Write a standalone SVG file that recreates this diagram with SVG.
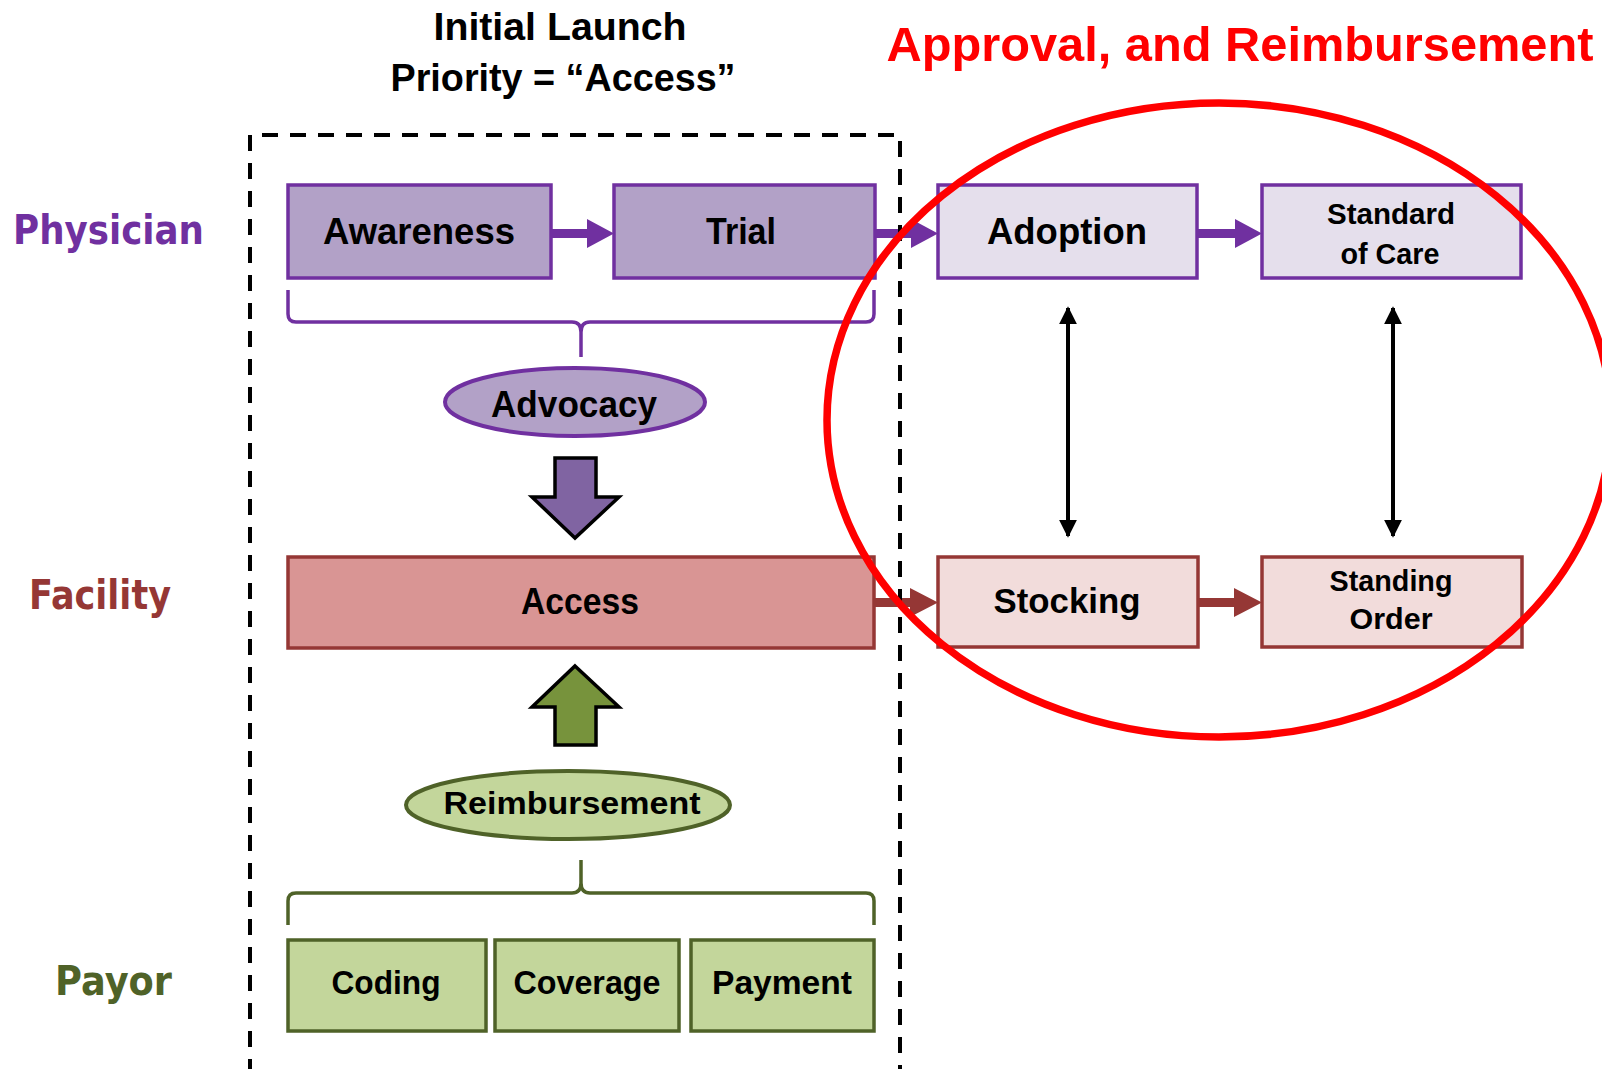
<svg xmlns="http://www.w3.org/2000/svg" width="1602" height="1069" viewBox="0 0 1602 1069">
  <defs>
    <style>
      .lbl { font-family: "Liberation Sans", Arial, sans-serif; font-weight: bold; fill: #000; text-anchor: middle; }
      .row { font-family: "DejaVu Sans", Verdana, sans-serif; font-weight: bold; }
      .phy-dark { fill: #B2A1C7; stroke: #7030A0; stroke-width: 3.5; }
      .phy-light { fill: #E5DFEC; stroke: #7030A0; stroke-width: 3.5; }
      .fac-dark { fill: #D99594; stroke: #953735; stroke-width: 3.5; }
      .fac-light { fill: #F2DCDB; stroke: #953735; stroke-width: 3.5; }
      .pay { fill: #C3D69B; stroke: #4F6228; stroke-width: 3.5; }
      .brace { fill: none; stroke-width: 3.5; stroke-linejoin: round; }
    </style>
    <marker id="tip" viewBox="0 0 10 10" refX="9" refY="5" markerWidth="18" markerHeight="18" markerUnits="userSpaceOnUse" orient="auto-start-reverse">
      <path d="M0,0 L10,5 L0,10 Z" fill="#000"/>
    </marker>
  </defs>
  <rect width="1602" height="1069" fill="#fff"/>

  <!-- headings -->
  <g id="heading">
    <text class="lbl" x="560" y="40" font-size="38" textLength="253" lengthAdjust="spacingAndGlyphs">Initial Launch</text>
    <text class="lbl" x="563" y="91" font-size="38" textLength="345" lengthAdjust="spacingAndGlyphs">Priority = “Access”</text>
  </g>
  <g id="red-heading">
    <text class="lbl" x="1240" y="61" font-size="49" style="fill:#FF0000" textLength="707" lengthAdjust="spacingAndGlyphs">Approval, and Reimbursement</text>
  </g>

  <!-- row labels -->
  <g id="row-physician"><text class="row" x="13" y="244" font-size="41" fill="#7030A0" textLength="191" lengthAdjust="spacingAndGlyphs">Physician</text></g>
  <g id="row-facility"><text class="row" x="29" y="609" font-size="41" fill="#953735" textLength="142" lengthAdjust="spacingAndGlyphs">Facility</text></g>
  <g id="row-payor"><text class="row" x="55" y="995" font-size="41" fill="#4F6228" textLength="117" lengthAdjust="spacingAndGlyphs">Payor</text></g>

  <!-- physician row -->
  <g id="awareness">
    <rect class="phy-dark" x="288" y="185" width="263" height="93"/>
    <text class="lbl" x="419" y="244" font-size="36" textLength="192" lengthAdjust="spacingAndGlyphs">Awareness</text>
  </g>
  <g id="trial">
    <rect class="phy-dark" x="614" y="185" width="261" height="93"/>
    <text class="lbl" x="741" y="244" font-size="36" textLength="70" lengthAdjust="spacingAndGlyphs">Trial</text>
  </g>
  <g id="adoption">
    <rect class="phy-light" x="938" y="185" width="259" height="93"/>
    <text class="lbl" x="1067" y="244" font-size="36" textLength="160" lengthAdjust="spacingAndGlyphs">Adoption</text>
  </g>
  <g id="standard-of-care">
    <rect class="phy-light" x="1262" y="185" width="259" height="93"/>
    <text class="lbl" x="1391" y="224" font-size="29" textLength="128" lengthAdjust="spacingAndGlyphs">Standard</text>
    <text class="lbl" x="1390" y="264" font-size="29" textLength="99" lengthAdjust="spacingAndGlyphs">of Care</text>
  </g>

  <!-- advocacy -->
  <g id="advocacy-brace">
    <path class="brace" stroke="#7030A0" d="M288,290 V314 Q288,322 296,322 H572 Q581,322 581,332 V357 M581,332 Q581,322 590,322 H866 Q874,322 874,314 V290"/>
  </g>
  <g id="advocacy">
    <ellipse cx="575" cy="402" rx="130" ry="34" fill="#B2A1C7" stroke="#7030A0" stroke-width="4"/>
    <text class="lbl" x="574" y="417" font-size="37" textLength="166" lengthAdjust="spacingAndGlyphs">Advocacy</text>
  </g>

  <!-- facility row -->
  <g id="access">
    <rect class="fac-dark" x="288" y="557" width="586" height="91"/>
    <text class="lbl" x="580" y="614" font-size="36" textLength="118" lengthAdjust="spacingAndGlyphs">Access</text>
  </g>
  <g id="stocking">
    <rect class="fac-light" x="938" y="557" width="260" height="90"/>
    <text class="lbl" x="1067" y="613" font-size="35" textLength="147" lengthAdjust="spacingAndGlyphs">Stocking</text>
  </g>
  <g id="standing-order">
    <rect class="fac-light" x="1262" y="557" width="260" height="90"/>
    <text class="lbl" x="1391" y="591" font-size="29" textLength="123" lengthAdjust="spacingAndGlyphs">Standing</text>
    <text class="lbl" x="1391" y="629" font-size="29" textLength="83" lengthAdjust="spacingAndGlyphs">Order</text>
  </g>

  <!-- reimbursement -->
  <g id="reimbursement">
    <ellipse cx="568" cy="805" rx="162" ry="34" fill="#C3D69B" stroke="#4F6228" stroke-width="4"/>
    <text class="lbl" x="572" y="814" font-size="31" textLength="257" lengthAdjust="spacingAndGlyphs">Reimbursement</text>
  </g>
  <g id="reimbursement-brace">
    <path class="brace" stroke="#4F6228" d="M288,925 V901 Q288,893 296,893 H572 Q581,893 581,883 V860 M581,883 Q581,893 590,893 H866 Q874,893 874,901 V925"/>
  </g>

  <!-- payor row -->
  <g id="coding">
    <rect class="pay" x="288" y="940" width="198" height="91"/>
    <text class="lbl" x="386" y="994" font-size="33" textLength="109" lengthAdjust="spacingAndGlyphs">Coding</text>
  </g>
  <g id="coverage">
    <rect class="pay" x="495" y="940" width="184" height="91"/>
    <text class="lbl" x="587" y="994" font-size="33" textLength="147" lengthAdjust="spacingAndGlyphs">Coverage</text>
  </g>
  <g id="payment">
    <rect class="pay" x="691" y="940" width="183" height="91"/>
    <text class="lbl" x="782" y="994" font-size="33" textLength="140" lengthAdjust="spacingAndGlyphs">Payment</text>
  </g>

  <!-- connectors -->
  <g id="connectors">
    <path fill="#7030A0" d="M551,229 H587 V219 L614,233.5 L587,248 V238 H551 Z"/>
    <path fill="#7030A0" d="M875,229 H911 V219 L938,233.5 L911,248 V238 H875 Z"/>
    <path fill="#7030A0" d="M1197,229 H1235 V219 L1262,233.5 L1235,248 V238 H1197 Z"/>
    <path fill="#953735" d="M874,598 H910 V588 L938,602.5 L910,617 V607 H874 Z"/>
    <path fill="#953735" d="M1198,598 H1234 V588 L1262,602.5 L1234,617 V607 H1198 Z"/>
    <path d="M555,458 H596 V497 H619 L575,538 L532,497 H555 Z" fill="#8064A2" stroke="#000" stroke-width="3.5" stroke-linejoin="miter"/>
    <path d="M575,666 L619,707 H596 V745 H555 V707 H532 Z" fill="#77933C" stroke="#000" stroke-width="3.5" stroke-linejoin="miter"/>
    <line x1="1068" y1="308" x2="1068" y2="536" stroke="#000" stroke-width="4" marker-start="url(#tip)" marker-end="url(#tip)"/>
    <line x1="1393" y1="308" x2="1393" y2="536" stroke="#000" stroke-width="4" marker-start="url(#tip)" marker-end="url(#tip)"/>
  </g>

  <!-- launch boundary -->
  <g id="launch-boundary">
    <path d="M250,1075 V135 H900 V1075" fill="none" stroke="#000" stroke-width="4" stroke-dasharray="16 12"/>
  </g>

  <!-- focus ring -->
  <g id="focus-ring">
    <ellipse cx="1219" cy="420" rx="392" ry="317" fill="none" stroke="#FF0000" stroke-width="7.5"/>
  </g>
</svg>
